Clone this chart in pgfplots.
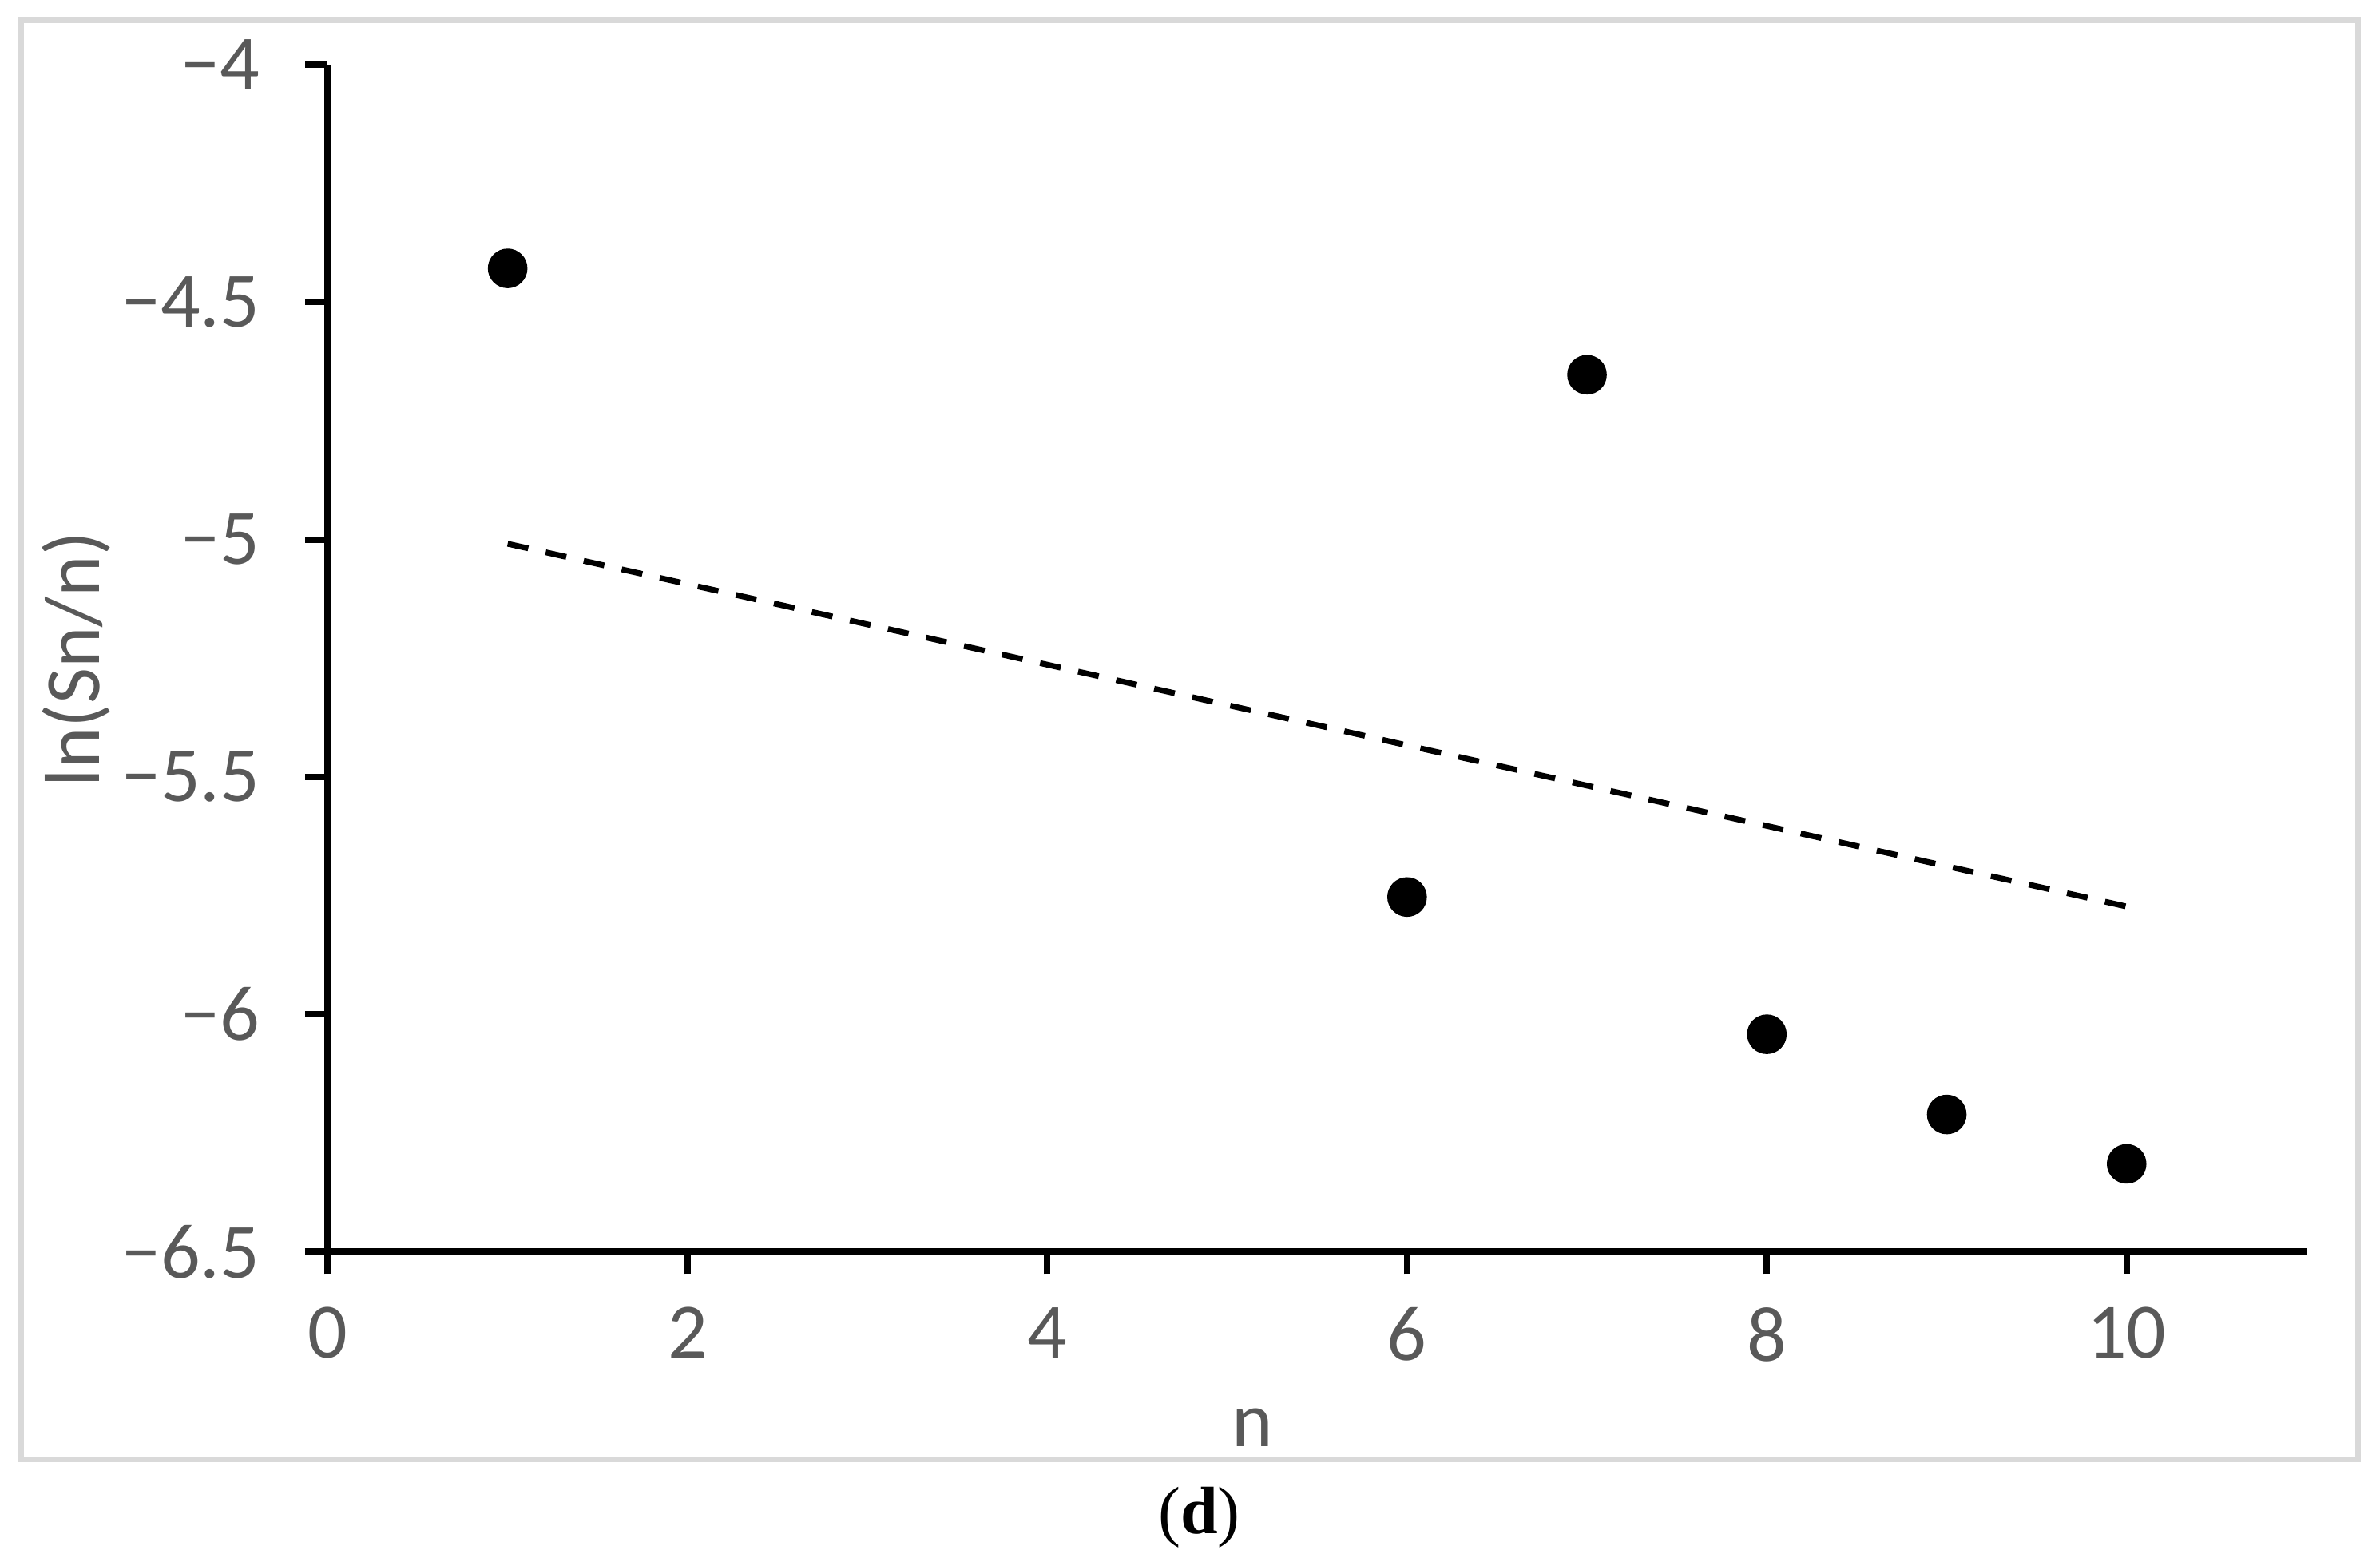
\documentclass[border=0pt]{standalone}
\usepackage{fontspec}
\setmainfont{Carlito}
\newfontfamily\capfont{Liberation Serif}
\usepackage{pgfplots}
\pgfplotsset{compat=1.18}
\definecolor{txtgray}{HTML}{595959}
\definecolor{framegray}{HTML}{D9D9D9}

\begin{document}
\begin{tikzpicture}
\useasboundingbox (0,0) rectangle (372.5pt,243.125pt);
\draw[framegray, line width=0.9pt] (3.3pt,14.7pt) rectangle (369.1pt,240pt);
\begin{axis}[
  at={(51.3pt,47.2pt)}, anchor=south west,
  width=309.7pt, height=185.8pt, scale only axis,
  xmin=0, xmax=11, ymin=-6.5, ymax=-4,
  axis lines*=left,
  axis line style={black, line width=1pt},
  xtick={0,2,4,6,8,10},
  ytick={-6.5,-6,-5.5,-5,-4.5,-4},
  yticklabels={−6.5,−6,−5.5,−5,−4.5,−4},
  tick align=outside, major tick length=3.5pt,
  tick style={black, line width=1pt},
  ticklabel style={font=\fontsize{12.25}{14}\selectfont, text=txtgray},
  yticklabel style={xshift=-3.6pt},
  xticklabel style={yshift=-1.7pt},
  /pgf/number format/assume math mode=true,
  xlabel={n}, ylabel={ln(Sn/n)},
  label style={font=\fontsize{12.25}{14}\selectfont, text=txtgray},
  xlabel style={at={(axis cs:5.14,-6.5)}, anchor=center, yshift=-27.5pt},
  ylabel style={at={(axis cs:0,-5.252)}, anchor=center, yshift=39.4pt},
  clip=false,
]
\addplot[black, dashed, line width=0.9pt, dash pattern=on 3.3pt off 2.8pt]
  coordinates {(1,-5.009)(10,-5.773)};
\addplot[only marks, mark=*, mark size=2.9pt, black] coordinates {
(1,-4.429)(6,-5.753)(7,-4.653)(8,-6.042)(9,-6.211)(10,-6.315)};
\end{axis}
\node[font=\capfont\fontsize{10.5}{12}\selectfont] at (187.7pt,5.6pt) {({\bfseries d})};
\end{tikzpicture}
\end{document}
